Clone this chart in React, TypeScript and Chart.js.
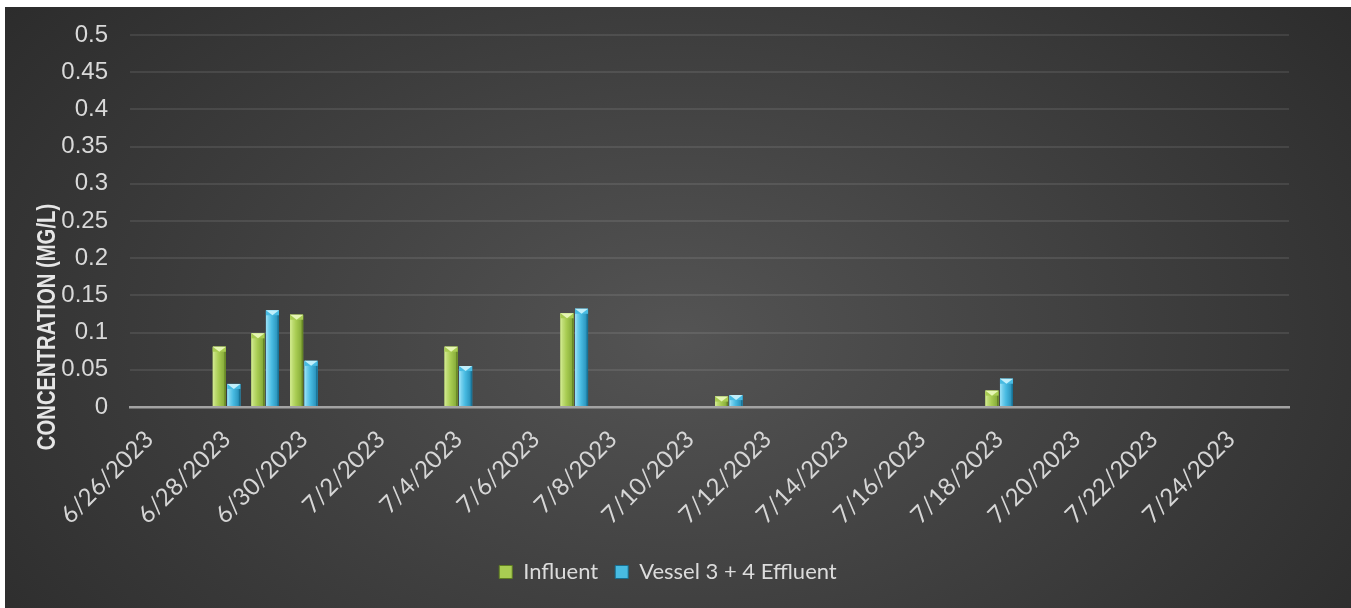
import React, { useEffect, useRef } from "react";
import { Chart, registerables } from "chart.js";

Chart.register(...registerables);

// Sample dates (one category per day)
const dates = [
  "6/26/2023", "6/27/2023", "6/28/2023", "6/29/2023", "6/30/2023",
  "7/1/2023", "7/2/2023", "7/3/2023", "7/4/2023", "7/5/2023",
  "7/6/2023", "7/7/2023", "7/8/2023", "7/9/2023", "7/10/2023",
  "7/11/2023", "7/12/2023", "7/13/2023", "7/14/2023", "7/15/2023",
  "7/16/2023", "7/17/2023", "7/18/2023", "7/19/2023", "7/20/2023",
  "7/21/2023", "7/22/2023", "7/23/2023", "7/24/2023", "7/25/2023",
];

// Concentrations in mg/L (null = no sample that day)
const influent = [
  null, null, 0.081, 0.099, 0.124, null, null, null, 0.081, null,
  null, 0.126, null, null, null, 0.014, null, null, null, null,
  null, null, 0.022, null, null, null, null, null, null, null,
];
const vesselEffluent = [
  null, null, 0.031, 0.13, 0.062, null, null, null, 0.055, null,
  null, 0.132, null, null, null, 0.016, null, null, null, null,
  null, null, 0.038, null, null, null, null, null, null, null,
];

const seriesNames = ["Influent", "Vessel 3 + 4 Effluent"];
const axisTitle = "CONCENTRATION (MG/L)";

const W = 1346;
const H = 601;

type Shade = { light: string; mid: string; dark: string; cap: string; edge: string };
const shades: Shade[] = [
  { light: "#cfe88c", mid: "#a8cc52", dark: "#7fa434", cap: "#e6f6b4", edge: "#5f7d22" },
  { light: "#94def5", mid: "#48bbe2", dark: "#2289b2", cap: "#c0effb", edge: "#176d8f" },
];

// Bevelled, horizontally shaded bars drawn over each bar element
const bevelBars = {
  id: "bevelBars",
  afterDatasetsDraw(chart: any) {
    const ctx: CanvasRenderingContext2D = chart.ctx;
    chart.data.datasets.forEach((_ds: any, di: number) => {
      const meta = chart.getDatasetMeta(di);
      const s = shades[di];
      meta.data.forEach((el: any, i: number) => {
        const v = chart.data.datasets[di].data[i];
        if (v == null) return;
        const left = el.x - el.width / 2;
        const right = el.x + el.width / 2;
        const top = el.y;
        const bottom = el.base;
        const w = right - left;
        const h = bottom - top;
        if (h <= 0) return;
        ctx.save();
        const g = ctx.createLinearGradient(left, 0, right, 0);
        g.addColorStop(0, s.light);
        g.addColorStop(0.45, s.mid);
        g.addColorStop(1, s.dark);
        ctx.fillStyle = g;
        ctx.fillRect(left, top, w, h);
        // side edges
        ctx.fillStyle = s.light;
        ctx.globalAlpha = 0.7;
        ctx.fillRect(left, top, 1.5, h);
        ctx.globalAlpha = 0.8;
        ctx.fillStyle = s.edge;
        ctx.fillRect(right - 1.5, top, 1.5, h);
        ctx.globalAlpha = 1;
        // top bevel cap
        const capH = Math.min(5, h);
        ctx.fillStyle = s.mid;
        ctx.fillRect(left, top, w, capH);
        ctx.beginPath();
        ctx.moveTo(left, top);
        ctx.lineTo(right, top);
        ctx.lineTo(el.x, top + capH);
        ctx.closePath();
        ctx.fillStyle = s.cap;
        ctx.fill();
        ctx.restore();
      });
    });
  },
};

// Rotated axis title placed beside the value axis
const yTitle = {
  id: "yTitle",
  afterDraw(chart: any) {
    const ctx: CanvasRenderingContext2D = chart.ctx;
    ctx.save();
    ctx.translate(43, 320);
    ctx.rotate(-Math.PI / 2);
    ctx.scale(0.78, 1);
    ctx.font = "bold 26px 'Liberation Sans', Arial, sans-serif";
    ctx.fillStyle = "#e6e6e6";
    ctx.textAlign = "center";
    ctx.textBaseline = "middle";
    ctx.fillText(axisTitle, 0, 0);
    ctx.restore();
  },
};

export default function App() {
  const ref = useRef<HTMLCanvasElement | null>(null);

  useEffect(() => {
    if (!ref.current) return;
    const chart = new Chart(ref.current, {
      type: "bar",
      data: {
        labels: dates,
        datasets: [
          {
            label: seriesNames[0],
            data: influent,
            backgroundColor: shades[0].mid,
            borderWidth: 0,
          },
          {
            label: seriesNames[1],
            data: vesselEffluent,
            backgroundColor: shades[1].mid,
            borderWidth: 0,
          },
        ],
      },
      options: {
        responsive: false,
        animation: false,
        layout: { padding: { left: 42, right: 62, top: 28, bottom: 15 } },
        datasets: {
          bar: { categoryPercentage: 0.75, barPercentage: 0.9 },
        },
        scales: {
          x: {
            grid: { display: false, drawTicks: false },
            border: { display: true, color: "#a3a3a3", width: 2.5 },
            ticks: {
              autoSkip: false,
              minRotation: 45,
              maxRotation: 45,
              padding: 18,
              color: "#d6d6d6",
              font: { family: "Lato, 'Open Sans', sans-serif", size: 24 },
              callback: (_v: any, i: number) => (i % 2 === 0 ? dates[i] : ""),
            },
            afterFit: (scale: any) => {
              scale.height = 137;
            },
          },
          y: {
            min: 0,
            max: 0.5,
            grid: { color: "rgba(255,255,255,0.09)", lineWidth: 2, drawTicks: false },
            border: { display: false },
            ticks: {
              stepSize: 0.05,
              padding: 22,
              color: "#d9d9d9",
              font: { family: "'Liberation Sans', Arial, sans-serif", size: 24 },
              callback: (v: any) => String(+Number(v).toFixed(2)),
            },
            afterFit: (scale: any) => {
              scale.width = 83;
              scale.paddingTop = 0;
            },
          },
        },
        plugins: {
          legend: {
            position: "bottom",
            labels: {
              boxWidth: 13,
              boxHeight: 13,
              padding: 17,
              color: "#dcdcdc",
              font: { family: "Lato, 'Open Sans', sans-serif", size: 22 },
              generateLabels: (c: any) =>
                c.data.datasets.map((ds: any, i: number) => ({
                  text: ds.label,
                  fillStyle: shades[i].mid,
                  strokeStyle: shades[i].edge,
                  lineWidth: 1,
                  fontColor: "#dcdcdc",
                  datasetIndex: i,
                  hidden: false,
                })),
            },
          },
          tooltip: { enabled: false },
        },
      },
      plugins: [bevelBars, yTitle],
    });
    return () => chart.destroy();
  }, []);

  return (
    <div
      style={{
        position: "absolute",
        left: 5,
        top: 7,
        width: W,
        height: H,
        background:
          "radial-gradient(ellipse 75% 110% at 50% 55%, #545454 0%, #3c3c3c 50%, #242424 100%)",
      }}
    >
      <canvas ref={ref} width={W} height={H} style={{ display: "block" }} />
    </div>
  );
}
